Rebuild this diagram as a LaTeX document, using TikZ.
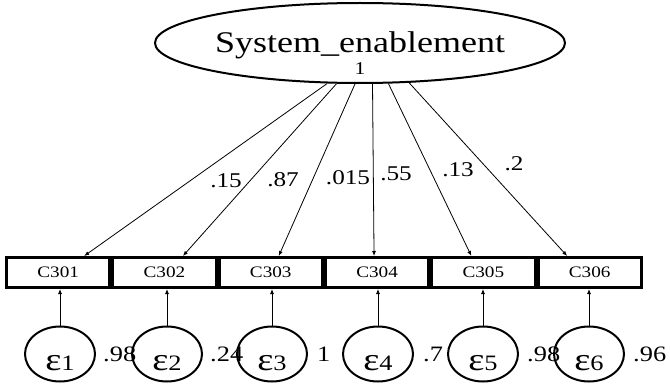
\documentclass[tikz,border=0pt]{standalone}
\usepackage{fontspec}
\setmainfont[FakeStretch=1.2]{Liberation Serif}
\usepackage{tikz}
\usetikzlibrary{arrows.meta,shapes.geometric,positioning}
\newcommand{\lowtext}[2]{\smash{\raisebox{-#1}{#2}}}
\newcommand{\errlab}[1]{\lowtext{16pt}{{\fontsize{32}{32}\selectfont ε}{\fontsize{22}{22}\selectfont #1}}}

\begin{document}
\begin{tikzpicture}[x=1pt,y=-1pt,
  latent/.style={ellipse,draw,line width=2pt,minimum width=374pt,minimum height=80pt,inner sep=0pt},
  obsbox/.style={rectangle,draw,line width=3pt,minimum width=103.3pt,minimum height=30pt,inner sep=0pt,font=\fontsize{16}{16}\selectfont},
  errc/.style={ellipse,draw,line width=2pt,minimum width=70pt,minimum height=55pt,inner sep=0pt},
  load/.style={font=\fontsize{21}{21}\selectfont,inner sep=0pt},
  var/.style={font=\fontsize{22}{22}\selectfont,inner sep=0pt},
  lnk/.style={-{Latex[length=5pt,width=4pt]},line width=0.8pt}]
\useasboundingbox (0,0) rectangle (670,385);
% latent variable
\node[latent] (sys) at (360,43) {\lowtext{10pt}{\fontsize{30}{30}\selectfont System\_enablement}};
\node[font=\fontsize{18}{18}\selectfont,inner sep=0pt] (one) at (360,69) {1};
% observed items
\node[obsbox] (c1) at (58.15,272.5) {C301};
\node[obsbox] (c2) at (164.45,272.5) {C302};
\node[obsbox] (c3) at (270.75,272.5) {C303};
\node[obsbox] (c4) at (377.05,272.5) {C304};
\node[obsbox] (c5) at (483.35,272.5) {C305};
\node[obsbox] (c6) at (589.65,272.5) {C306};
% error terms
\node[errc] (e1) at (60,354) {\errlab{1}};
\node[errc] (e2) at (167,354) {\errlab{2}};
\node[errc] (e3) at (272,354) {\errlab{3}};
\node[errc] (e4) at (378,354) {\errlab{4}};
\node[errc] (e5) at (483,354) {\errlab{5}};
\node[errc] (e6) at (589,354) {\errlab{6}};
% loadings
\draw[lnk] (sys.231) -- ([xshift=26pt]c1.north);
\draw[lnk] (sys.240) -- ([xshift=18.5pt]c2.north);
\draw[lnk] (sys.263) -- ([xshift=8pt]c3.north);
\draw[lnk] (sys.287.6) -- ([xshift=-3pt]c4.north);
\draw[lnk] (sys.305.6) -- ([xshift=-12pt]c5.north);
\draw[lnk] (sys.321.5) -- ([xshift=-22.5pt]c6.north);
\node[load] (l1) at (226,181) {.15};
\node[load] (l2) at (283,180) {.87};
\node[load] (l3) at (348,178) {.015};
\node[load] (l4) at (396,174) {.55};
\node[load] (l5) at (458,170) {.13};
\node[load] (l6) at (514,164) {.2};
% errors to items
\draw[lnk] (e1) -- (e1 |- c1.south);
\draw[lnk] (e2) -- (e2 |- c2.south);
\draw[lnk] (e3) -- (e3 |- c3.south);
\draw[lnk] (e4) -- (e4 |- c4.south);
\draw[lnk] (e5) -- (e5 |- c5.south);
\draw[lnk] (e6) -- (e6 |- c6.south);
\node[var,right=7pt of e1] (v1) {.98};
\node[var,right=7pt of e2] (v2) {.24};
\node[var,right=9pt of e3] (v3) {1};
\node[var,right=9pt of e4] (v4) {.7};
\node[var,right=8pt of e5] (v5) {.98};
\node[var,right=8pt of e6] (v6) {.96};
\end{tikzpicture}
\end{document}
